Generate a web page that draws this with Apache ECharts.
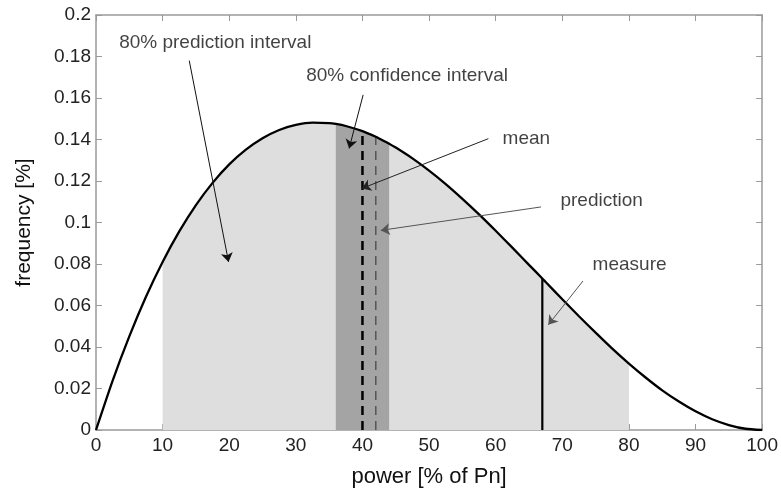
<!DOCTYPE html>
<html>
<head>
<meta charset="utf-8">
<script src="https://cdn.jsdelivr.net/npm/echarts@6/dist/echarts.min.js"></script>
<style>
html,body{margin:0;padding:0;background:#fff;}
#chart{width:781px;height:493px;}
</style>
</head>
<body>
<div id="chart"></div>
<script>
// ---- data ----
const powerPct = [0, 2.5, 5, 7.5, 10, 12.5, 15, 17.5, 20, 22.5, 25, 27.5, 30, 32.5, 35, 36, 37.5, 40, 42, 42.5, 44, 45, 47.5, 50, 52.5, 55, 57.5, 60, 62.5, 65, 67, 67.5, 70, 72.5, 75, 77.5, 80, 82.5, 85, 87.5, 90, 92.5, 95, 97.5, 100];
const frequency = [0, 0.0238, 0.0451, 0.0642, 0.0810, 0.0957, 0.1084, 0.1191, 0.1280, 0.1351, 0.1406, 0.1446, 0.1470, 0.1481, 0.1479, 0.1475, 0.1465, 0.1440, 0.1413, 0.1405, 0.1380, 0.1361, 0.1309, 0.1250, 0.1185, 0.1114, 0.1039, 0.0960, 0.0879, 0.0796, 0.0730, 0.0713, 0.0630, 0.0548, 0.0469, 0.0392, 0.0320, 0.0253, 0.0191, 0.0137, 0.0090, 0.0052, 0.0024, 0.0006, 0];
const predictionInterval = [10, 80];
const confidenceInterval = [36, 44];
const meanX = 40;
const predictionX = 42;
const measureX = 67;
const annotationTexts = ['80% prediction interval', '80% confidence interval', 'mean', 'prediction', 'measure'];
const annotationPos = [[17.9, 0.1865], [46.7, 0.1705], [64.6, 0.1404], [75.9, 0.1103], [80.1, 0.0798]];
const arrowFrom = [[14.0, 0.178], [40.1, 0.1615], [58.9, 0.1404], [66.8, 0.1075], [73.1, 0.0718]];
const arrowTo = [[19.9, 0.081], [38.0, 0.1357], [39.9, 0.1164], [42.75, 0.0962], [67.9, 0.0507]];
const arrowColors = ['#111', '#111', '#222', '#555', '#555'];

// ---- build ----
const curve = powerPct.map((x, i) => [x, frequency[i]]);
const inRange = (r) => curve.filter(p => p[0] >= r[0] && p[0] <= r[1]);
const valAt = (x) => frequency[powerPct.indexOf(x)];

const FONT = "'Liberation Sans', Arial, Helvetica, sans-serif";
const axisGrey = '#9a9a9a';
const lineCommon = {show: true, onZero: false, lineStyle: {color: axisGrey, width: 1.5}};
const tickCommon = {show: true, inside: true, length: 6, lineStyle: {color: axisGrey}};

const chart = echarts.init(document.getElementById('chart'), null, {renderer: 'canvas'});
chart.setOption({
  animation: false,
  backgroundColor: '#fff',
  grid: {left: 96, right: 16, top: 15, bottom: 52, containLabel: false},
  xAxis: [{
    type: 'value', min: 0, max: 100, interval: 10, position: 'bottom',
    name: 'power [% of Pn]', nameLocation: 'middle', nameGap: 36,
    nameTextStyle: {fontFamily: FONT, fontSize: 22, color: '#111'},
    axisLine: lineCommon, axisTick: tickCommon,
    axisLabel: {fontFamily: FONT, fontSize: 19, color: '#222', margin: 6},
    splitLine: {show: false}
  }, {
    type: 'value', min: 0, max: 100, interval: 10, position: 'top',
    axisLine: lineCommon, axisTick: tickCommon,
    axisLabel: {show: false}, splitLine: {show: false}
  }],
  yAxis: [{
    type: 'value', min: 0, max: 0.2, interval: 0.02, position: 'left',
    name: 'frequency [%]', nameLocation: 'middle', nameGap: 61,
    nameTextStyle: {fontFamily: FONT, fontSize: 21, color: '#111'},
    axisLine: lineCommon, axisTick: tickCommon,
    axisLabel: {fontFamily: FONT, fontSize: 19, color: '#222', margin: 5},
    splitLine: {show: false}
  }, {
    type: 'value', min: 0, max: 0.2, interval: 0.02, position: 'right',
    axisLine: lineCommon, axisTick: tickCommon,
    axisLabel: {show: false}, splitLine: {show: false}
  }],
  series: [
    {
      type: 'line', data: inRange(predictionInterval), symbol: 'none', silent: true,
      lineStyle: {width: 0}, areaStyle: {color: '#dedede', opacity: 1}, z: 1
    },
    {
      type: 'line', data: inRange(confidenceInterval), symbol: 'none', silent: true,
      lineStyle: {width: 0}, areaStyle: {color: '#a4a4a4', opacity: 1}, z: 2
    },
    {
      type: 'line', data: [[meanX, 0], [meanX, valAt(meanX)]], symbol: 'none',
      lineStyle: {color: '#000', width: 2.5, type: [9, 6]}, z: 3
    },
    {
      type: 'line', data: [[predictionX, 0], [predictionX, valAt(predictionX)]], symbol: 'none',
      lineStyle: {color: '#555', width: 1.5, type: [9, 6]}, z: 3
    },
    {
      type: 'line', data: [[measureX, 0], [measureX, valAt(measureX)]], symbol: 'none',
      lineStyle: {color: '#000', width: 2.2}, z: 3
    },
    {
      type: 'line', data: curve, symbol: 'none', smooth: 0.2,
      lineStyle: {color: '#000', width: 2.3}, z: 4
    },
    {
      type: 'lines', coordinateSystem: 'cartesian2d', z: 5,
      symbol: ['none', 'arrow'], symbolSize: 9,
      data: arrowFrom.map((f, i) => ({
        coords: [f, arrowTo[i]],
        lineStyle: {color: arrowColors[i], width: 1, opacity: 1}
      }))
    },
    {
      type: 'scatter', symbolSize: 0, z: 6, silent: true,
      data: annotationPos.map((p, i) => [p[0], p[1], annotationTexts[i]]),
      label: {
        show: true, position: 'inside', fontFamily: FONT, fontSize: 19, color: '#111',
        formatter: (p) => p.value[2]
      }
    }
  ]
});
</script>
</body>
</html>
